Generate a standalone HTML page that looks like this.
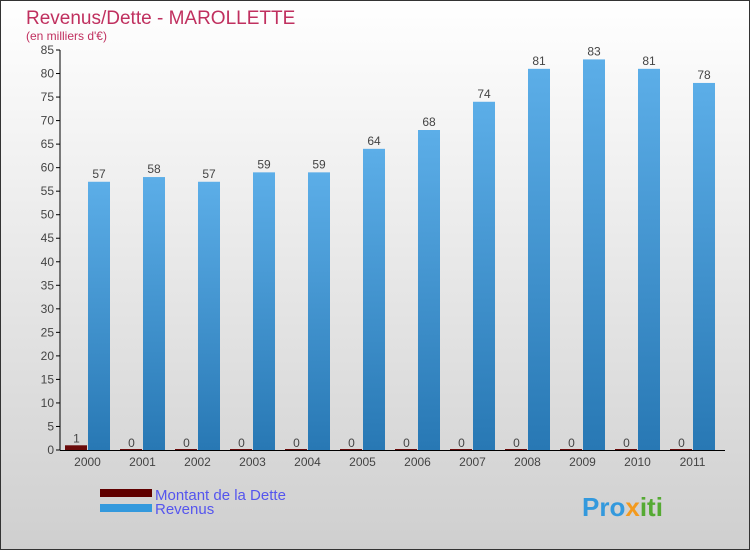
<!DOCTYPE html>
<html><head><meta charset="utf-8"><style>
body{margin:0;width:750px;height:550px;overflow:hidden;font-family:"Liberation Sans",sans-serif}
</style></head><body>
<svg id="c" width="750" height="550" xmlns="http://www.w3.org/2000/svg">
<defs>
<linearGradient id="bg" x1="0" y1="0" x2="0" y2="1"><stop offset="0" stop-color="#ffffff"/><stop offset="1" stop-color="#cfcfcf"/></linearGradient>
<linearGradient id="bl" x1="0" y1="0" x2="0" y2="1"><stop offset="0" stop-color="#5caee8"/><stop offset="1" stop-color="#2878b4"/></linearGradient>
</defs>
<rect x="0.5" y="0.5" width="749" height="549" fill="url(#bg)" stroke="#333"/>
<text x="26" y="24" font-size="19" fill="#c0305f">Revenus/Dette - MAROLLETTE</text>
<text x="26" y="40" font-size="12" fill="#c0305f">(en milliers d'€)</text>
<g id="plot"></g>
<rect x="100" y="489" width="52" height="8" fill="#600000"/>
<text x="155" y="500" font-size="15" fill="#5555ee">Montant de la Dette</text>
<rect x="100" y="504" width="52" height="8" fill="#3399dd"/>
<text x="155" y="514" font-size="15" fill="#5555ee">Revenus</text>
<text x="582" y="516" font-size="26" font-weight="bold" fill="#3399dd">Pro<tspan fill="#f39a1e">x</tspan><tspan fill="#55aa33">iti</tspan></text>
</svg>
<script>
const years=["2000","2001","2002","2003","2004","2005","2006","2007","2008","2009","2010","2011"];
const dette=[1,0,0,0,0,0,0,0,0,0,0,0];
const revenus=[57,58,57,59,59,64,68,74,81,83,81,78];
const ticks=[0,5,10,15,20,25,30,35,40,45,50,55,60,65,70,75,80,85];
const NS="http://www.w3.org/2000/svg";
const g=document.getElementById('plot');
const y=v=>450-v*400/85;
const xc=i=>87.5+i*55;
function el(t,a,txt){const e=document.createElementNS(NS,t);for(const k in a)e.setAttribute(k,a[k]);if(txt!==undefined)e.textContent=txt;g.appendChild(e);return e;}
ticks.forEach(t=>{
 const l=el('line',{x1:56,x2:60,y1:y(t),y2:y(t),stroke:'#000'});
 
 
 const tx=el('text',{x:54,y:y(t)+4,'font-size':12,'text-anchor':'end',fill:'#444'},t);
 
 
});
years.forEach((yr,i)=>{
 const c=xc(i);
 const d=el('rect',{x:c-22.5,y:y(dette[i])-(dette[i]?0:1),width:22,height:Math.max(1,450-y(dette[i])),fill:'#6a0a0a'});
 
 
 const r=el('rect',{x:c+0.5,y:y(revenus[i]),width:22,height:450-y(revenus[i]),fill:'url(#bl)'});
 
 
 const dl=el('text',{x:c-11,y:y(dette[i])-3,'font-size':12,'text-anchor':'middle',fill:'#444'},dette[i]);
 
 
 const rl=el('text',{x:c+11.5,y:y(revenus[i])-4,'font-size':12,'text-anchor':'middle',fill:'#444'},revenus[i]);
 
 
 const xl=el('text',{x:c,y:466,'font-size':12,'text-anchor':'middle',fill:'#444'},yr);
 
 
});
const ya=el('line',{x1:60,x2:60,y1:50,y2:450,stroke:'#000'});


const xa=el('line',{x1:60,x2:725,y1:450.5,y2:450.5,stroke:'#000'});


</script>
</body></html>
